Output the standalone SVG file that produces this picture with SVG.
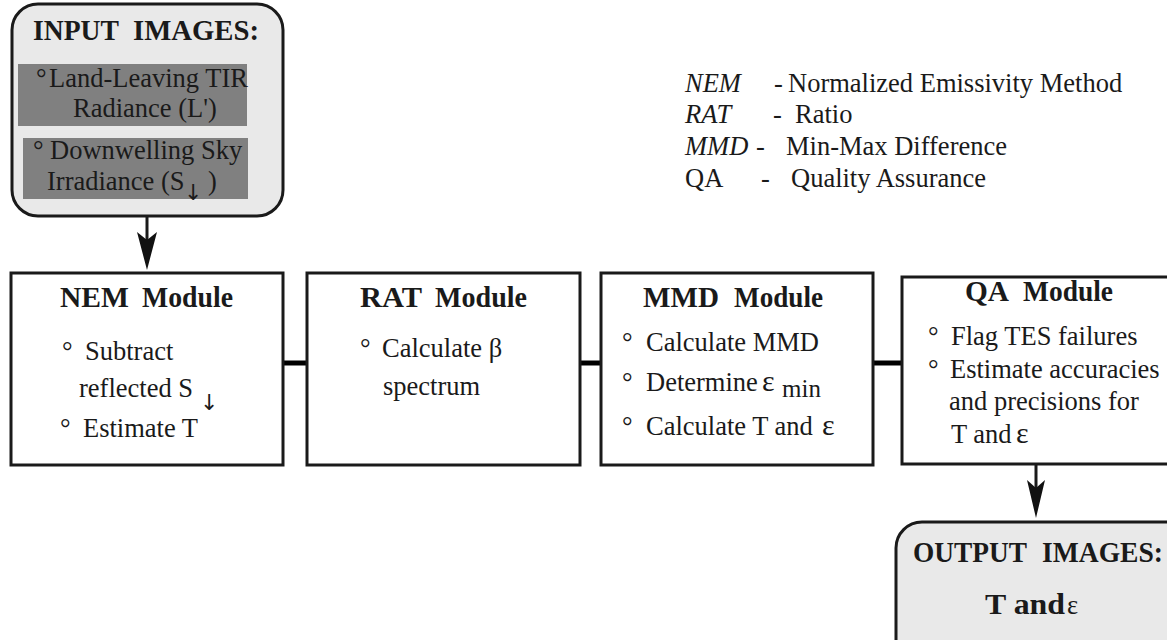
<svg xmlns="http://www.w3.org/2000/svg" width="1167" height="640" viewBox="0 0 1167 640">
<defs>
<style>
.box{fill:#fff;stroke:#1a1a1a;stroke-width:3}
.rbox{fill:#e9e9e9;stroke:#1a1a1a;stroke-width:3}
.band{fill:#808080}
.t{font-family:"Liberation Serif","Times New Roman",serif;font-size:26.5px;fill:#1a1a1a}
.b{font-family:"Liberation Serif","Times New Roman",serif;font-weight:bold;font-size:29px;fill:#1a1a1a}
.i{font-style:italic}
.ar{font-family:"DejaVu Sans","Liberation Sans",sans-serif;font-size:22px;fill:#1a1a1a}
.conn{stroke:#000;stroke-width:5;fill:none}
.arr{stroke:#1a1a1a;stroke-width:3;fill:none}
.head{fill:#111}
</style>
</defs>
<rect width="1167" height="640" fill="#fff"/>

<g id="input-images">
<rect class="rbox" x="12" y="4" width="271" height="212" rx="26"/>
<text class="b" y="40" font-size="25"><tspan x="33" textLength="86" lengthAdjust="spacingAndGlyphs">INPUT</tspan><tspan x="133" textLength="126" lengthAdjust="spacingAndGlyphs">IMAGES:</tspan></text>
<rect class="band" x="18" y="64" width="229" height="62"/>
<rect class="band" x="23" y="138" width="225" height="61"/>
<text class="t" x="36" y="87">°<tspan x="49">Land-Leaving TIR</tspan></text>
<text class="t" x="73" y="117">Radiance (L')</text>
<text class="t" x="33" y="159">°<tspan x="50">Downwelling Sky</tspan></text>
<text class="t" x="47" y="190">Irradiance (S</text>
<text class="ar" x="184" y="200">↓</text>
<text class="t" x="208" y="190">)</text>
</g>

<g id="legend">
<text class="t i" x="685" y="92">NEM</text><text class="t" x="774" y="92">-</text><text class="t" x="788" y="92">Normalized Emissivity Method</text>
<text class="t i" x="685" y="123">RAT</text><text class="t" x="773" y="123">-</text><text class="t" x="795" y="123">Ratio</text>
<text class="t i" x="685" y="155">MMD</text><text class="t" x="756" y="155">-</text><text class="t" x="786" y="155">Min-Max Difference</text>
<text class="t" x="685" y="187">QA</text><text class="t" x="761" y="187">-</text><text class="t" x="791" y="187">Quality Assurance</text>
</g>

<g id="connectors">
<line class="arr" x1="147" y1="217" x2="147" y2="240"/>
<path class="head" d="M147,270 L137,232 L147,240 L157,232 Z"/>
<line class="conn" x1="283" y1="363" x2="307" y2="363"/>
<line class="conn" x1="580" y1="363" x2="601" y2="363"/>
<line class="conn" x1="873" y1="363" x2="902" y2="363"/>
<line class="arr" x1="1036" y1="465" x2="1036" y2="488"/>
<path class="head" d="M1036,518 L1027,480 L1036,488 L1045,480 Z"/>
</g>

<g id="nem-module">
<rect class="box" x="11" y="273" width="272" height="192"/>
<text class="b" y="307"><tspan x="60" textLength="69" lengthAdjust="spacingAndGlyphs">NEM</tspan><tspan x="142" textLength="91" lengthAdjust="spacingAndGlyphs">Module</tspan></text>
<text class="t" x="62" y="360">°<tspan x="85">Subtract</tspan></text>
<text class="t" x="79" y="397">reflected  S</text>
<text class="ar" x="200" y="410">↓</text>
<text class="t" x="60" y="437">°<tspan x="83">Estimate T</tspan></text>
</g>

<g id="rat-module">
<rect class="box" x="307" y="273" width="273" height="192"/>
<text class="b" y="307"><tspan x="360" textLength="62" lengthAdjust="spacingAndGlyphs">RAT</tspan><tspan x="435" textLength="92" lengthAdjust="spacingAndGlyphs">Module</tspan></text>
<text class="t" x="360" y="357">°<tspan x="382">Calculate β</tspan></text>
<text class="t" x="383" y="395">spectrum</text>
</g>

<g id="mmd-module">
<rect class="box" x="601" y="273" width="272" height="192"/>
<text class="b" y="307"><tspan x="643" textLength="76" lengthAdjust="spacingAndGlyphs">MMD</tspan><tspan x="734" textLength="89" lengthAdjust="spacingAndGlyphs">Module</tspan></text>
<text class="t" x="622" y="351">°<tspan x="646">Calculate MMD</tspan></text>
<text class="t" x="622" y="391">°<tspan x="646">Determine</tspan><tspan x="762" font-size="30">ε</tspan><tspan x="782" y="397" font-size="25">min</tspan></text>
<text class="t" x="622" y="435">°<tspan x="646">Calculate T and</tspan><tspan x="822" font-size="30">ε</tspan></text>
</g>

<g id="qa-module">
<rect class="box" x="902" y="277" width="280" height="187"/>
<text class="b" y="301"><tspan x="965" textLength="44" lengthAdjust="spacingAndGlyphs">QA</tspan><tspan x="1023" textLength="90" lengthAdjust="spacingAndGlyphs">Module</tspan></text>
<text class="t" x="928" y="345">°<tspan x="951">Flag TES failures</tspan></text>
<text class="t" x="928" y="378">°<tspan x="950">Estimate accuracies</tspan></text>
<text class="t" x="949" y="410">and precisions for</text>
<text class="t" x="951" y="443">T and<tspan x="1016" font-size="30">ε</tspan></text>
</g>

<g id="output-images">
<rect class="rbox" x="896" y="522" width="300" height="150" rx="26"/>
<text class="b" y="562" font-size="28"><tspan x="913" textLength="114" lengthAdjust="spacingAndGlyphs">OUTPUT</tspan><tspan x="1042" textLength="121" lengthAdjust="spacingAndGlyphs">IMAGES:</tspan></text>
<text class="b" x="985" y="614" font-size="32" textLength="80" lengthAdjust="spacingAndGlyphs">T and</text>
<text class="t" x="1067" y="614" font-size="28">ε</text>
</g>
</svg>
